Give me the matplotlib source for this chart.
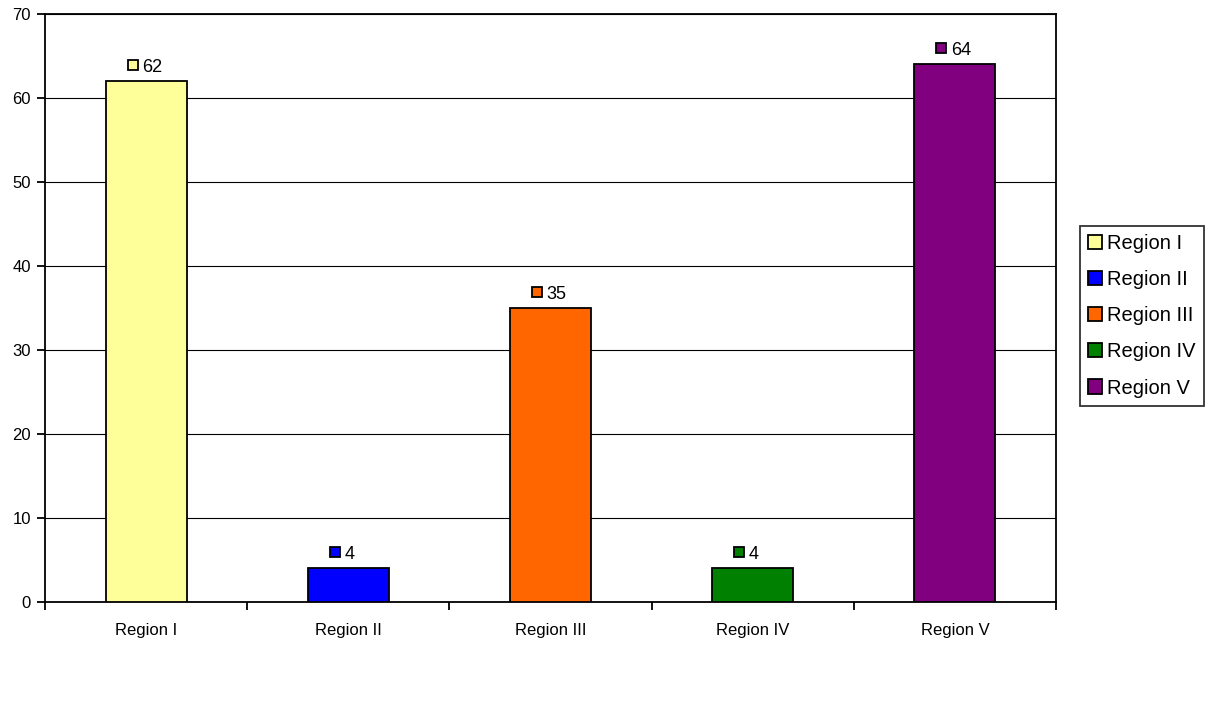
import matplotlib.pyplot as plt
import matplotlib.transforms as mtransforms
from matplotlib.patches import Patch

plt.rcParams['font.family'] = ['Liberation Sans', 'DejaVu Sans']

regions = ['Region I', 'Region II', 'Region III', 'Region IV', 'Region V']
values = [62, 4, 35, 4, 64]
colors = ['#FFFF99', '#0000FF', '#FF6600', '#008000', '#800080']

fig = plt.figure(figsize=(12.11, 7.02), dpi=100)
ax = fig.add_axes([45/1211, 1 - 602/702, (1056-45)/1211, (602-14)/702])

x = list(range(len(regions)))
ax.bar(x, values, width=0.4, color=colors, edgecolor='black', linewidth=1.3, zorder=3)

ax.set_xlim(-0.5, len(regions) - 0.5)
ax.set_ylim(0, 70)
ax.set_yticks(range(0, 71, 10))
ax.yaxis.grid(True, color='black', linewidth=0.8, zorder=0)

# category labels centered, tick marks between categories
ax.set_xticks([i - 0.5 for i in range(len(regions) + 1)])
ax.set_xticklabels([])
ax.set_xticks(x, minor=True)
ax.set_xticklabels(regions, minor=True, fontsize=12)
ax.tick_params(axis='x', which='minor', length=0, pad=15)
ax.tick_params(axis='x', which='major', length=6, width=1.3, direction='out')
ax.tick_params(axis='y', length=6, width=1.3, direction='out', labelsize=12, pad=4)

for s in ax.spines.values():
    s.set_linewidth(1.3)

# value labels with little colour keys
mark_tr = mtransforms.offset_copy(ax.transData, fig=fig, x=-13.5, y=0, units='dots')
text_tr = mtransforms.offset_copy(ax.transData, fig=fig, x=-4, y=0, units='dots')
for i, v in enumerate(values):
    ax.plot(i, v + 1.9, marker='s', markersize=7.5, color=colors[i],
            markeredgecolor='black', markeredgewidth=1.3, transform=mark_tr,
            clip_on=False, zorder=4)
    ax.text(i, v + 1.6, str(v), fontsize=13, ha='left', va='center',
            transform=text_tr, zorder=4)

handles = [Patch(facecolor=c, edgecolor='black', linewidth=1.3) for c in colors]
leg = fig.legend(handles, regions, loc='upper left',
                 bbox_to_anchor=(1080/1211, 1 - 226/702), fontsize=14.5,
                 frameon=True, fancybox=False, edgecolor='black',
                 handlelength=0.7, handleheight=0.7, handletextpad=0.25,
                 labelspacing=0.85, borderpad=0.4, borderaxespad=0)
leg.get_frame().set_linewidth(1.3)

fig.savefig('out.png', dpi=100)
